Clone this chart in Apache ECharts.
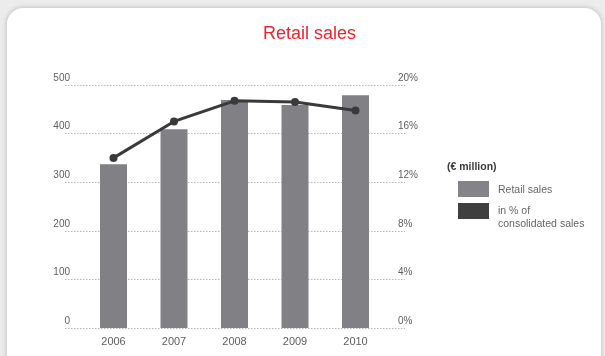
<!DOCTYPE html>
<html>
<head>
<meta charset="utf-8">
<script src="https://cdn.jsdelivr.net/npm/echarts@6/dist/echarts.min.js"></script>
<style>
  html, body { margin: 0; padding: 0; background: #ececec; }
  #card {
    position: absolute; left: 7px; top: 8px; width: 594px; height: 400px;
    background: #fff; border-radius: 16px;
    box-shadow: 0 0 4px 1px rgba(0, 0, 0, 0.16);
  }
  #chart { position: absolute; left: 0; top: 0; width: 605px; height: 356px; }
</style>
</head>
<body>
<div id="card"></div>
<div id="chart"></div>
<script>
// Retail sales in € million, and their share of consolidated sales (%)
const years = ['2006', '2007', '2008', '2009', '2010'];
const retailSales = [337, 409, 469, 459, 479];
const shareOfSales = [14.0, 17.0, 18.7, 18.6, 17.9];

const FONT = '"Liberation Sans", Arial, sans-serif';
const labelColor = '#5e5e5e';

const chart = echarts.init(document.getElementById('chart'));

const gridTop = 85;
const gridHeight = 243;

chart.setOption({
  animation: false,
  textStyle: { fontFamily: FONT },
  title: {
    text: 'Retail sales',
    left: 258,
    top: 20,
    textStyle: { color: '#e8262d', fontSize: 18, fontWeight: 'normal', fontFamily: FONT }
  },
  grid: [
    // wide grid carrying the dotted value lines and tick labels
    { left: 65, right: 200, top: gridTop, height: gridHeight },
    // narrower grid for the bars and the share line
    { left: 83.25, width: 302.5, top: gridTop, height: gridHeight }
  ],
  xAxis: [
    { gridIndex: 0, type: 'category', data: years, show: false },
    {
      gridIndex: 1, type: 'category', data: years,
      axisLine: { show: false }, axisTick: { show: false },
      axisLabel: { color: labelColor, fontSize: 11, margin: 8, fontFamily: FONT }
    }
  ],
  yAxis: [
    {
      gridIndex: 0, type: 'value', position: 'left', min: 0, max: 500, interval: 100,
      axisLine: { show: false }, axisTick: { show: false },
      axisLabel: {
        color: labelColor, fontSize: 10, margin: -5, verticalAlign: 'bottom',
        padding: [0, 0, 2, 0], fontFamily: FONT
      },
      splitLine: { show: true, lineStyle: { color: '#b8b8b8', width: 1, type: [1.5, 1.5] } }
    },
    {
      gridIndex: 0, type: 'value', position: 'right', min: 0, max: 20, interval: 4,
      axisLine: { show: false }, axisTick: { show: false },
      axisLabel: {
        color: labelColor, fontSize: 10, margin: -7, verticalAlign: 'bottom',
        padding: [0, 0, 2, 0], formatter: '{value}%', fontFamily: FONT
      },
      splitLine: { show: false }
    },
    { gridIndex: 1, type: 'value', position: 'left', min: 0, max: 500, show: false, splitLine: { show: false } },
    { gridIndex: 1, type: 'value', position: 'right', min: 0, max: 20, show: false, splitLine: { show: false } }
  ],
  series: [
    {
      name: 'Retail sales',
      type: 'bar',
      xAxisIndex: 1, yAxisIndex: 2,
      data: retailSales,
      barWidth: 27,
      itemStyle: { color: '#818185' }
    },
    {
      name: 'in % of consolidated sales',
      type: 'line',
      xAxisIndex: 1, yAxisIndex: 3,
      data: shareOfSales,
      symbol: 'circle',
      symbolSize: 8,
      lineStyle: { color: '#3a3a3a', width: 3 },
      itemStyle: { color: '#3a3a3a' },
      z: 5
    }
  ],
  graphic: [
    {
      type: 'text', left: 447, top: 162,
      style: { text: '(€ million)', fill: '#3a3a3a', font: 'bold 10.5px ' + FONT }
    },
    { type: 'rect', shape: { x: 458, y: 181, width: 31, height: 16 }, style: { fill: '#848488' } },
    {
      type: 'text', left: 498, top: 185,
      style: { text: 'Retail sales', fill: '#666', font: '10.5px ' + FONT }
    },
    { type: 'rect', shape: { x: 458, y: 203, width: 31, height: 16 }, style: { fill: '#3f3f3f' } },
    {
      type: 'text', left: 498, top: 205,
      style: { text: 'in % of\nconsolidated sales', fill: '#666', font: '10.5px ' + FONT, lineHeight: 13 }
    }
  ]
});
</script>
</body>
</html>
